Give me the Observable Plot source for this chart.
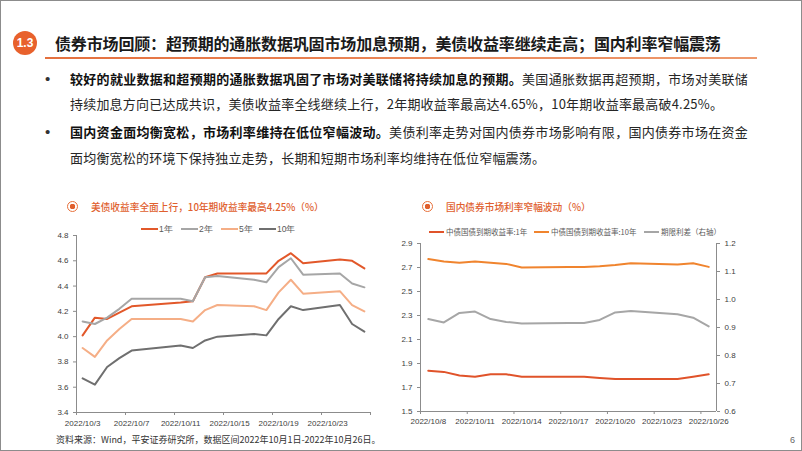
<!DOCTYPE html>
<html><head><meta charset="utf-8">
<script src="https://cdn.jsdelivr.net/npm/d3@7"></script>
<script src="https://cdn.jsdelivr.net/npm/@observablehq/plot@0.6"></script>
<style>
html,body{margin:0;padding:0;background:#fff;}
#page{position:relative;width:802px;height:451px;box-sizing:border-box;border:1px solid #8c8c8c;overflow:hidden;font-family:"Noto Sans CJK SC","Noto Sans",sans-serif;color:#1a1a1a;background:#fff;}
.abs{position:absolute;white-space:nowrap;}
.line{position:absolute;left:69px;font-size:13px;line-height:18px;letter-spacing:0.2px;color:#262626;}
.just{text-align:justify;text-align-last:justify;width:678px;}
.line b{font-weight:700;color:#111;}
.bullet{position:absolute;left:44px;font-family:"Liberation Sans",Arial,sans-serif;font-size:15px;line-height:18px;color:#333;}
.ctitle{position:absolute;font-size:9.7px;line-height:14px;color:#E0602E;font-weight:500;white-space:nowrap;}
.icon{position:absolute;width:9px;height:9px;border-radius:50%;border:1.6px solid #E8703A;background:radial-gradient(circle,#E0602E 0 2.6px,#fff 3px);}
.leg{position:absolute;font-family:"Liberation Sans",Arial,sans-serif;font-size:8.5px;line-height:10px;color:#595959;white-space:nowrap;display:flex;align-items:center;}
.leg i{display:inline-block;height:2px;margin-right:1px;}
.chart{position:absolute;}
</style></head><body><div id="page"></div>
<script>
// ---------- data ----------
const usDates = ["2022-10-03","2022-10-04","2022-10-05","2022-10-06","2022-10-07","2022-10-11","2022-10-12","2022-10-13","2022-10-14","2022-10-17","2022-10-18","2022-10-19","2022-10-20","2022-10-21","2022-10-24","2022-10-25","2022-10-26"];
const usSeries = ["1年","2年","5年","10年"];
const us1y  = [4.01,4.15,4.14,4.19,4.24,4.27,4.28,4.47,4.50,4.50,4.50,4.60,4.66,4.58,4.61,4.60,4.54];
const us2y  = [4.12,4.10,4.15,4.22,4.30,4.30,4.28,4.47,4.48,4.45,4.43,4.55,4.62,4.49,4.50,4.42,4.39];
const us5y  = [3.91,3.84,3.97,4.06,4.14,4.14,4.12,4.21,4.25,4.24,4.21,4.35,4.45,4.34,4.36,4.25,4.20];
const us10y = [3.67,3.62,3.76,3.83,3.89,3.93,3.91,3.97,4.00,4.02,4.01,4.14,4.24,4.21,4.25,4.10,4.04];
const usColors = ["#E2582A","#A6A6A6","#F5AE86","#6F6F6F"];
const usXTicks = ["2022-10-03","2022-10-07","2022-10-11","2022-10-15","2022-10-19","2022-10-23"];
const usXEnd = "2022-10-27";
const usYTicks = [3.4,3.6,3.8,4.0,4.2,4.4,4.6,4.8];

const cnDates = ["2022-10-08","2022-10-09","2022-10-10","2022-10-11","2022-10-12","2022-10-13","2022-10-14","2022-10-17","2022-10-18","2022-10-19","2022-10-20","2022-10-21","2022-10-24","2022-10-25","2022-10-26"];
const cnSeries = ["中债国债到期收益率:1年","中债国债到期收益率:10年","期限利差（右轴）"];
const cn1y   = [1.84,1.83,1.80,1.79,1.81,1.81,1.79,1.79,1.79,1.78,1.77,1.77,1.77,1.79,1.81];
const cn10y  = [2.77,2.75,2.74,2.75,2.74,2.73,2.70,2.705,2.705,2.71,2.72,2.735,2.725,2.735,2.705];
const spread = [0.93,0.918,0.952,0.957,0.93,0.92,0.914,0.916,0.916,0.927,0.954,0.959,0.947,0.935,0.904];
const cnColors = ["#E0532A","#F0842E","#A6A6A6"];
const cnXTicks = ["2022-10-08","2022-10-11","2022-10-14","2022-10-17","2022-10-20","2022-10-23","2022-10-26"];
const cnXEnd = "2022-10-27";
const cnYTicks = [1.5,1.7,1.9,2.1,2.3,2.5,2.7,2.9];
const cnY2Ticks = [0.6,0.7,0.8,0.9,1.0,1.1,1.2];

// ---------- text ----------
const titleText = "债券市场回顾：超预期的通胀数据巩固市场加息预期，美债收益率继续走高；国内利率窄幅震荡";
const bullets = [
  ["较好的就业数据和超预期的通胀数据巩固了市场对美联储将持续加息的预期。","美国通胀数据再超预期，市场对美联储","持续加息方向已达成共识，美债收益率全线继续上行，2年期收益率最高达4.65%，10年期收益率最高破4.25%。"],
  ["国内资金面均衡宽松，市场利率维持在低位窄幅波动。","美债利率走势对国内债券市场影响有限，国内债券市场在资金","面均衡宽松的环境下保持独立走势，长期和短期市场利率均维持在低位窄幅震荡。"]
];
const chartTitles = ["美债收益率全面上行，10年期收益率最高4.25%（%）","国内债券市场利率窄幅波动（%）"];
const sourceText = "资料来源：Wind，平安证券研究所，数据区间2022年10月1日-2022年10月26日。";

// ---------- helpers ----------
const atNoon = s => { const [y,m,d] = s.split("-").map(Number); return new Date(y, m-1, d, 12); };
const atMid  = s => { const [y,m,d] = s.split("-").map(Number); return new Date(y, m-1, d, 0); };
const fmt = d => `${d.getFullYear()}/${d.getMonth()+1}/${d.getDate()}`;
const page = document.getElementById("page");
function el(tag, cls, style, html){ const e=document.createElement(tag); if(cls) e.className=cls; if(style) e.style.cssText=style; if(html!=null) e.innerHTML=html; page.appendChild(e); return e; }

// header
el("div","abs","left:12px;top:30px;width:24px;height:24px;border-radius:50%;background:#E8612C;color:#fff;font:bold 12px/24px 'Liberation Sans',Arial,sans-serif;text-align:center;","1.3");
el("div","abs","left:54px;top:31px;font-size:16px;line-height:22px;font-weight:700;color:#1a1a1a;letter-spacing:-0.15px;",titleText);
el("div","abs","left:44px;top:56px;width:712px;height:2px;background:linear-gradient(to right,#E4703E,#EE9A6E);");

// bullets
const lineTops = [[69,94],[122,148]];
bullets.forEach((b,i)=>{
  el("div","bullet",`top:${lineTops[i][0]}px;`,"•");
  el("div","line just",`top:${lineTops[i][0]}px;`,`<b>${b[0]}</b>${b[1]}`);
  el("div","line",`top:${lineTops[i][1]}px;`,b[2]);
});

// chart titles
el("div","icon","left:66px;top:200px;");
el("div","ctitle","left:90px;top:199px;",chartTitles[0]);
el("div","icon","left:421px;top:200px;");
el("div","ctitle","left:445px;top:199px;",chartTitles[1]);

// legends
const usLegX = [140,180,220,258];
usSeries.forEach((s,i)=>{
  el("div","leg",`left:${usLegX[i]}px;top:223px;`,`<i style="width:17px;background:${usColors[i]}"></i>${s}`);
});
const cnLegX = [428,533,643];
cnSeries.forEach((s,i)=>{
  el("div","leg",`left:${cnLegX[i]}px;top:226px;font-family:'Noto Sans CJK SC',sans-serif;font-size:7.5px;`,`<i style="width:15px;margin-right:2px;background:${cnColors[i]}"></i>${s}`);
});

// source & page number
el("div","abs","left:55px;top:432px;font-size:9px;line-height:13px;color:#333;",sourceText);
el("div","abs","left:789px;top:434px;font:9px 'Liberation Sans',Arial,sans-serif;color:#666;","6");

// ---------- left chart ----------
const usAll = [us1y,us2y,us5y,us10y];
const usRows = [];
usSeries.forEach((s,k)=>usDates.forEach((d,j)=>usRows.push({date:atNoon(d), series:s, value:usAll[k][j]})));
const usMidTicks = usXTicks.concat([usXEnd]).map(atMid);
const axisStyle = {fontFamily:"'Liberation Sans',Arial,sans-serif", fontSize:"8px", color:"#404040", background:"transparent"};

const left = Plot.plot({
  width: 350, height: 205, marginTop: 8, marginLeft: 45, marginRight: 11, marginBottom: 20,
  style: axisStyle,
  x: {type:"time", domain:[atMid(usXTicks[0]), atMid(usXEnd)]},
  y: {domain:[usYTicks[0], usYTicks[usYTicks.length-1]]},
  color: {domain: usSeries, range: usColors},
  marks: [
    Plot.ruleX([atMid(usXTicks[0])], {stroke:"#8c8c8c", strokeWidth:1}),
    Plot.ruleY([usYTicks[0]], {stroke:"#8c8c8c", strokeWidth:1}),
    Plot.axisY({ticks: usYTicks, tickFormat: d3.format(".1f"), tickSize: 3, tickPadding: 5, label: null, stroke:"#8c8c8c"}),
    Plot.axisX({ticks: usMidTicks, tickSize: 3, tickFormat: () => "", label: null, stroke:"#8c8c8c"}),
    Plot.axisX({ticks: usXTicks.map(atNoon), tickSize: 0, tickPadding: 8, tickFormat: fmt, label: null}),
    Plot.line(usRows, {x:"date", y:"value", z:"series", stroke:"series", strokeWidth:2, strokeLinejoin:"round"})
  ]
});
left.classList.add("chart"); left.style.left="30px"; left.style.top="226px";
page.appendChild(left);

// ---------- right chart ----------
const yMin = cnYTicks[0], yMax = cnYTicks[cnYTicks.length-1];
const y2Min = cnY2Ticks[0], y2Max = cnY2Ticks[cnY2Ticks.length-1];
const toLeft = v => yMin + (v - y2Min) / (y2Max - y2Min) * (yMax - yMin);
const fromLeft = v => y2Min + (v - yMin) / (yMax - yMin) * (y2Max - y2Min);
const cnRows = [];
cnDates.forEach((d,j)=>{
  cnRows.push({date:atNoon(d), series:cnSeries[0], value:cn1y[j]});
  cnRows.push({date:atNoon(d), series:cnSeries[1], value:cn10y[j]});
  cnRows.push({date:atNoon(d), series:cnSeries[2], value:toLeft(spread[j])});
});
const cnMidTicks = cnXTicks.map(atMid);

const right = Plot.plot({
  width: 370, height: 195, marginTop: 8, marginLeft: 34, marginRight: 40, marginBottom: 19,
  style: axisStyle,
  x: {type:"time", domain:[atMid(cnXTicks[0]), atMid(cnXEnd)]},
  y: {domain:[yMin, yMax]},
  color: {domain: cnSeries, range: cnColors},
  marks: [
    Plot.ruleX([atMid(cnXTicks[0]), atMid(cnXEnd)], {stroke:"#8c8c8c", strokeWidth:1}),
    Plot.ruleY([yMin], {stroke:"#8c8c8c", strokeWidth:1}),
    Plot.axisY({ticks: cnYTicks, tickFormat: d3.format(".1f"), tickSize: 3, tickPadding: 5, label: null, stroke:"#8c8c8c"}),
    Plot.axisY({anchor:"right", ticks: cnY2Ticks.map(toLeft), tickFormat: v => d3.format(".1f")(fromLeft(v)), tickSize: 3, tickPadding: 5, label: null, stroke:"#8c8c8c"}),
    Plot.axisX({ticks: cnMidTicks, tickSize: 3, tickFormat: () => "", label: null, stroke:"#8c8c8c"}),
    Plot.axisX({ticks: cnXTicks.map(atNoon), tickSize: 0, tickPadding: 7, tickFormat: fmt, label: null}),
    Plot.line(cnRows, {x:"date", y:"value", z:"series", stroke:"series", strokeWidth:2, strokeLinejoin:"round"})
  ]
});
right.classList.add("chart"); right.style.left="385px"; right.style.top="234px";
page.appendChild(right);
</script></body></html>
